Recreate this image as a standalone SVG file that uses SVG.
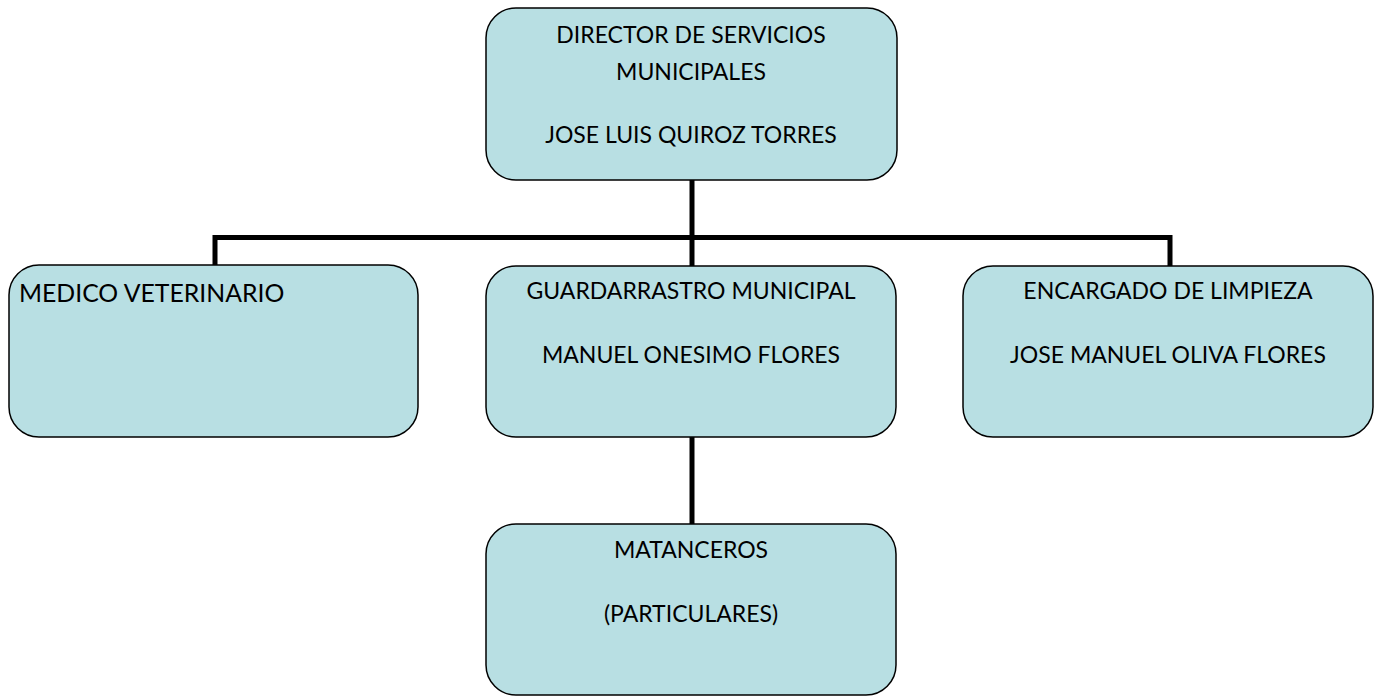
<svg xmlns="http://www.w3.org/2000/svg" width="1374" height="698" viewBox="0 0 1374 698">
<style>
.box{fill:#B8DFE3;stroke:#000;stroke-width:1.5}
.t{font-family:Lato,"Open Sans","Liberation Sans",sans-serif;font-size:23px;fill:#000;text-anchor:middle}
.c{fill:none;stroke:#000;stroke-width:5}
</style>
<rect width="1374" height="698" fill="#fff"/>
<g id="connectors">
<line class="c" x1="692" y1="180" x2="692" y2="266"/>
<polyline class="c" points="215,266 215,237.5 1170,237.5 1170,266"/>
<line class="c" x1="692" y1="437" x2="692" y2="524"/>
</g>
<g id="director">
<rect class="box" x="486" y="8" width="411" height="172" rx="30"/>
<text class="t" x="691" y="43">DIRECTOR DE SERVICIOS</text>
<text class="t" x="691" y="80">MUNICIPALES</text>
<text class="t" x="691" y="143">JOSE LUIS QUIROZ TORRES</text>
</g>
<g id="veterinario">
<rect class="box" x="9" y="265" width="409" height="172" rx="30"/>
<text class="t" x="19" y="302" style="text-anchor:start;font-size:24.8px">MEDICO VETERINARIO</text>
</g>
<g id="guardarrastro">
<rect class="box" x="486" y="266" width="410" height="171" rx="30"/>
<text class="t" x="691" y="299">GUARDARRASTRO MUNICIPAL</text>
<text class="t" x="691" y="363">MANUEL ONESIMO FLORES</text>
</g>
<g id="limpieza">
<rect class="box" x="963" y="266" width="410" height="171" rx="30"/>
<text class="t" x="1168" y="299">ENCARGADO DE LIMPIEZA</text>
<text class="t" x="1168" y="363">JOSE MANUEL OLIVA FLORES</text>
</g>
<g id="matanceros">
<rect class="box" x="486" y="524" width="410" height="171" rx="30"/>
<text class="t" x="691" y="558">MATANCEROS</text>
<text class="t" x="691" y="622">(PARTICULARES)</text>
</g>
</svg>
